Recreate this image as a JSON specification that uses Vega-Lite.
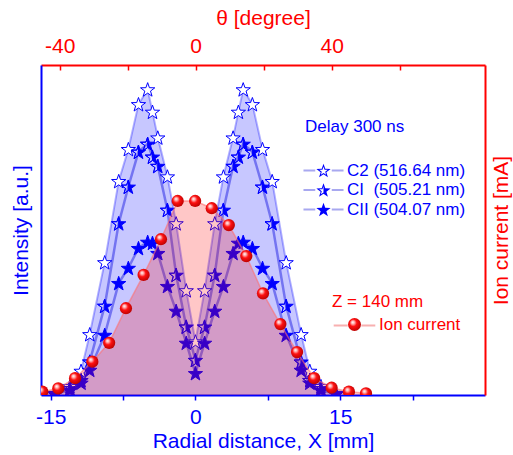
{
  "$schema": "https://vega.github.io/schema/vega-lite/v6.json",
  "width": 444,
  "height": 330,
  "autosize": {"type": "none"},
  "padding": {"left": 41, "top": 65, "right": 28, "bottom": 60},
  "background": "white",
  "config": {"font": "Liberation Sans", "view": {"stroke": null}, "axis": {"grid": false, "zindex": 1}},
  "datasets": {
    "stars": [
      {"series":"C2","x":-14.55,"y":0.6},{"series":"C2","x":-13,"y":2.7},{"series":"C2","x":-11.85,"y":7.3},{"series":"C2","x":-10.95,"y":18.4},{"series":"C2","x":-9.4,"y":40.2},{"series":"C2","x":-7.95,"y":64.8},{"series":"C2","x":-6.95,"y":74.5},{"series":"C2","x":-5.9,"y":88.1},{"series":"C2","x":-4.95,"y":92.6},{"series":"C2","x":-4.45,"y":85.8},{"series":"C2","x":-3.9,"y":78.0},{"series":"C2","x":-2.9,"y":66.2},{"series":"C2","x":-2,"y":52.0},{"series":"C2","x":-0.95,"y":31.7},{"series":"C2","x":0,"y":16.2},{"series":"C2","x":0.95,"y":31.7},{"series":"C2","x":2,"y":52.0},{"series":"C2","x":2.9,"y":66.2},{"series":"C2","x":3.9,"y":78.0},{"series":"C2","x":4.45,"y":85.8},{"series":"C2","x":4.95,"y":92.6},{"series":"C2","x":5.9,"y":88.1},{"series":"C2","x":6.95,"y":74.5},{"series":"C2","x":7.95,"y":64.8},{"series":"C2","x":9.4,"y":40.2},{"series":"C2","x":10.95,"y":18.4},{"series":"C2","x":11.85,"y":7.3},{"series":"C2","x":13,"y":2.7},{"series":"C2","x":14.55,"y":0.6},
      {"series":"CI","x":-14.55,"y":0.45},{"series":"CI","x":-13,"y":2.0},{"series":"CI","x":-11.85,"y":4.5},{"series":"CI","x":-10.95,"y":10.1},{"series":"CI","x":-9.4,"y":27.0},{"series":"CI","x":-7.95,"y":52.0},{"series":"CI","x":-6.95,"y":63.1},{"series":"CI","x":-5.9,"y":73.7},{"series":"CI","x":-4.95,"y":76.1},{"series":"CI","x":-4.45,"y":72.2},{"series":"CI","x":-3.9,"y":69.4},{"series":"CI","x":-2.9,"y":56.1},{"series":"CI","x":-2,"y":36.4},{"series":"CI","x":-0.95,"y":20.7},{"series":"CI","x":0,"y":10.6},{"series":"CI","x":0.95,"y":20.7},{"series":"CI","x":2,"y":36.4},{"series":"CI","x":2.9,"y":56.1},{"series":"CI","x":3.9,"y":69.4},{"series":"CI","x":4.45,"y":72.2},{"series":"CI","x":4.95,"y":76.1},{"series":"CI","x":5.9,"y":73.7},{"series":"CI","x":6.95,"y":63.1},{"series":"CI","x":7.95,"y":52.0},{"series":"CI","x":9.4,"y":27.0},{"series":"CI","x":10.95,"y":10.1},{"series":"CI","x":11.85,"y":4.5},{"series":"CI","x":13,"y":2.0},{"series":"CI","x":14.55,"y":0.45},
      {"series":"CII","x":-14.55,"y":0.3},{"series":"CII","x":-13,"y":1.5},{"series":"CII","x":-11.85,"y":3.7},{"series":"CII","x":-10.95,"y":7.6},{"series":"CII","x":-9.4,"y":18.2},{"series":"CII","x":-7.95,"y":33.9},{"series":"CII","x":-6.95,"y":38.5},{"series":"CII","x":-5.9,"y":44.5},{"series":"CII","x":-4.95,"y":46.4},{"series":"CII","x":-4.45,"y":46.1},{"series":"CII","x":-3.9,"y":43.0},{"series":"CII","x":-2.9,"y":33.0},{"series":"CII","x":-2,"y":25.5},{"series":"CII","x":-0.95,"y":15.8},{"series":"CII","x":0,"y":6.6},{"series":"CII","x":0.95,"y":15.8},{"series":"CII","x":2,"y":25.5},{"series":"CII","x":2.9,"y":33.0},{"series":"CII","x":3.9,"y":43.0},{"series":"CII","x":4.45,"y":46.1},{"series":"CII","x":4.95,"y":46.4},{"series":"CII","x":5.9,"y":44.5},{"series":"CII","x":6.95,"y":38.5},{"series":"CII","x":7.95,"y":33.9},{"series":"CII","x":9.4,"y":18.2},{"series":"CII","x":10.95,"y":7.6},{"series":"CII","x":11.85,"y":3.7},{"series":"CII","x":13,"y":1.5},{"series":"CII","x":14.55,"y":0.3}
    ],
    "ion": [
      {"series":"Ion current","x":-15.87,"y":1.0},{"series":"Ion current","x":-14.21,"y":2.0},{"series":"Ion current","x":-12.47,"y":5.1},{"series":"Ion current","x":-10.68,"y":10.1},{"series":"Ion current","x":-8.94,"y":15.8},{"series":"Ion current","x":-7.2,"y":26.3},{"series":"Ion current","x":-5.37,"y":36.4},{"series":"Ion current","x":-3.57,"y":47.2},{"series":"Ion current","x":-1.84,"y":58.8},{"series":"Ion current","x":-0.03,"y":58.8},{"series":"Ion current","x":1.69,"y":56.6},{"series":"Ion current","x":3.46,"y":51.5},{"series":"Ion current","x":5.27,"y":42.1},{"series":"Ion current","x":7.0,"y":30.8},{"series":"Ion current","x":8.8,"y":21.5},{"series":"Ion current","x":10.53,"y":13.0},{"series":"Ion current","x":12.3,"y":5.1},{"series":"Ion current","x":14.11,"y":2.2},{"series":"Ion current","x":15.9,"y":1.0},{"series":"Ion current","x":17.67,"y":0.5}
    ],
    "starkeys": [{"series": "C2"}, {"series": "CI"}, {"series": "CII"}],
    "ionkeys": [{"series": "Ion current"}]
  },
  "layer": [
    {
      "layer": [
        {
          "data": {"name": "stars"},
          "transform": [{"filter": "datum.series === 'C2'"}],
          "mark": {"type": "area", "color": "#0000ff", "opacity": 0.22, "clip": true},
          "encoding": {
            "x": {"field": "x", "type": "quantitative", "scale": {"domain": [-16, 30], "nice": false, "zero": false},
              "axis": {"orient": "bottom", "title": "Radial distance, X [mm]", "titleColor": "#0000ff", "titleFontSize": 21, "titleFontWeight": "normal", "titlePadding": 3, "labelColor": "#0000ff", "labelFontSize": 21, "labelPadding": 6, "values": [-15, -7.5, 0, 7.5, 15, 22.5], "labelExpr": "datum.value % 15 === 0 ? '' + datum.value : ''", "labelFlush": false, "labelOverlap": false, "domainColor": "#0000ff", "domainWidth": 2, "tickColor": "#0000ff", "tickWidth": 1.5, "tickSize": 5}},
            "y": {"field": "y", "type": "quantitative", "scale": {"domain": [0, 100], "nice": false, "zero": false},
              "axis": {"orient": "left", "title": "Intensity [a.u.]", "titleColor": "#0000ff", "titleFontSize": 21, "titleFontWeight": "normal", "titlePadding": 10, "ticks": false, "labels": false, "domainColor": "#0000ff", "domainWidth": 2}}
          }
        },
        {
          "data": {"name": "stars"},
          "transform": [{"filter": "datum.series === 'C2'"}],
          "mark": {"type": "line", "color": "#0000ff", "opacity": 0.3, "strokeWidth": 2, "clip": true},
          "encoding": {"x": {"field": "x", "type": "quantitative"}, "y": {"field": "y", "type": "quantitative"}}
        },
        {
          "data": {"name": "stars"},
          "transform": [{"filter": "datum.series !== 'C2'"}],
          "mark": {"type": "line", "color": "#1010e0", "opacity": 0.45, "strokeWidth": 2.5, "clip": true},
          "encoding": {"x": {"field": "x", "type": "quantitative"}, "y": {"field": "y", "type": "quantitative"}, "detail": {"field": "series", "type": "nominal"}}
        },
        {
          "data": {"name": "stars"},
          "mark": {"type": "point", "stroke": "#0000ff", "strokeWidth": 1, "size": 225, "opacity": 1, "clip": true},
          "encoding": {
            "x": {"field": "x", "type": "quantitative"},
            "y": {"field": "y", "type": "quantitative"},
            "fill": {"field": "series", "type": "nominal", "scale": {"domain": ["C2", "CI", "CII"], "range": ["#ffffff", "#0000ff", "#0000ff"]}, "legend": null},
            "shape": {"field": "series", "type": "nominal",
              "scale": {"domain": ["C2", "CI", "CII"], "range": [
                "M0,-0.905L0.235,-0.229L0.951,-0.214L0.38,0.219L0.588,0.904L0,0.495L-0.588,0.904L-0.38,0.219L-0.951,-0.214L-0.235,-0.229Z",
                "M0,-0.905L0.235,-0.229L0.951,-0.214L0.38,0.219L0.588,0.904L0,0.495L-0.588,0.904L-0.38,0.219L-0.951,-0.214L-0.235,-0.229ZM0,-0.905L-0.235,-0.229L-0.951,-0.214L-0.38,0.219L-0.588,0.904L0,0.495Z",
                "M0,-0.905L0.235,-0.229L0.951,-0.214L0.38,0.219L0.588,0.904L0,0.495L-0.588,0.904L-0.38,0.219L-0.951,-0.214L-0.235,-0.229Z"]},
              "legend": null}
          }
        }
      ]
    },
    {
      "layer": [
        {
          "data": {"name": "ion"},
          "mark": {"type": "area", "color": "#ff0000", "opacity": 0.22, "clip": true},
          "encoding": {
            "x": {"field": "x", "type": "quantitative", "scale": {"domain": [-16, 30], "nice": false, "zero": false}, "axis": null},
            "y": {"field": "y", "type": "quantitative", "scale": {"domain": [0, 100], "nice": false, "zero": false},
              "axis": {"orient": "right", "title": "Ion current [mA]", "titleColor": "#ff0000", "titleFontSize": 21, "titleFontWeight": "normal", "titlePadding": 5, "titleAngle": -90, "titleBaseline": "top", "ticks": false, "labels": false, "domainColor": "#ff0000", "domainWidth": 2}}
          }
        },
        {
          "data": {"name": "ion"},
          "mark": {"type": "line", "color": "#ff7070", "opacity": 0.6, "strokeWidth": 1.5, "clip": true},
          "encoding": {"x": {"field": "x", "type": "quantitative"}, "y": {"field": "y", "type": "quantitative"}}
        },
        {
          "data": {"name": "ion"},
          "mark": {"type": "point", "shape": "circle", "filled": true, "size": 150, "opacity": 1, "strokeWidth": 0, "clip": true,
            "fill": {"gradient": "radial", "x1": 0.36, "y1": 0.32, "r1": 0, "x2": 0.45, "y2": 0.45, "r2": 0.62,
              "stops": [{"offset": 0, "color": "#ffffff"}, {"offset": 0.2, "color": "#ffb0b0"}, {"offset": 0.45, "color": "#ff1010"}, {"offset": 1, "color": "#b00000"}]}},
          "encoding": {
            "x": {"field": "x", "type": "quantitative"},
            "y": {"field": "y", "type": "quantitative"}
          }
        }
      ]
    },
    {
      "data": {"values": [{"theta": -45.5}, {"theta": 85.1}]},
      "mark": {"type": "point", "opacity": 0},
      "encoding": {
        "x": {"field": "theta", "type": "quantitative", "scale": {"domain": [-45.5, 85.1], "nice": false, "zero": false},
          "axis": {"orient": "top", "title": "θ [degree]", "titleColor": "#ff0000", "titleFontSize": 21, "titleFontWeight": "normal", "titlePadding": 7, "labelColor": "#ff0000", "labelFontSize": 21, "labelPadding": 14, "values": [-40, -20, 0, 20, 40, 60], "labelExpr": "datum.value % 40 === 0 ? '' + datum.value : ''", "labelFlush": false, "labelOverlap": false, "domainColor": "#ff0000", "domainWidth": 2, "tickColor": "#ff0000", "tickWidth": 1.5, "tickSize": -5}}
      }
    },
    {
      "data": {"name": "starkeys"},
      "mark": {"type": "point", "filled": true, "fill": "#a8a8f0", "strokeWidth": 0, "opacity": 0},
      "encoding": {
        "shape": {"field": "series", "type": "nominal",
          "scale": {"domain": ["C2", "CI", "CII"], "range": [
            "M-2.67,-0.13L-1.1,-0.13L-1.1,0.13L-2.67,0.13ZM1.1,-0.13L2.67,-0.13L2.67,0.13L1.1,0.13Z",
            "M-2.67,-0.131L-1.1,-0.131L-1.1,0.131L-2.67,0.131ZM1.1,-0.131L2.67,-0.131L2.67,0.131L1.1,0.131Z",
            "M-2.67,-0.132L-1.1,-0.132L-1.1,0.132L-2.67,0.132ZM1.1,-0.132L2.67,-0.132L2.67,0.132L1.1,0.132Z"]},
          "legend": {"orient": "none", "legendX": 264, "legendY": 97, "padding": 0, "title": null, "labelExpr": "''", "labelFontSize": 17, "symbolSize": 225, "symbolOffset": 10, "rowPadding": 1.5, "symbolStrokeWidth": 0, "symbolOpacity": 1}}
      }
    },
    {
      "data": {"name": "starkeys"},
      "mark": {"type": "point", "filled": true, "fill": "#0000ff", "strokeWidth": 0, "opacity": 0},
      "encoding": {
        "shape": {"field": "series", "type": "nominal",
          "scale": {"domain": ["C2", "CI", "CII"], "range": [
            "M0,-0.905L0.235,-0.229L0.951,-0.214L0.38,0.219L0.588,0.904L0,0.495L-0.588,0.904L-0.38,0.219L-0.951,-0.214L-0.235,-0.229ZM0,-0.505L-0.141,-0.099L-0.571,-0.09L-0.228,0.169L-0.353,0.58L0,0.335L0.353,0.58L0.228,0.169L0.571,-0.09L0.141,-0.099Z",
            "M0,-0.905L0.235,-0.229L0.951,-0.214L0.38,0.219L0.588,0.904L0,0.495L-0.588,0.904L-0.38,0.219L-0.951,-0.214L-0.235,-0.229ZM0,-0.505L-0.141,-0.099L-0.571,-0.09L-0.228,0.169L-0.353,0.58L0,0.335Z",
            "M0,-0.905L0.235,-0.229L0.951,-0.214L0.38,0.219L0.588,0.904L0,0.495L-0.588,0.904L-0.38,0.219L-0.951,-0.214L-0.235,-0.229Z"]},
          "legend": {
            "orient": "none", "legendX": 264, "legendY": 54, "padding": 0,
            "title": "Delay 300 ns", "titleColor": "#0000ff", "titleFontSize": 17, "titleFontWeight": "normal", "titlePadding": 26, "titleAnchor": "start",
            "labelColor": "#0000ff", "labelFontSize": 17, "labelOffset": 15, "labelLimit": 300,
            "labelExpr": "datum.value === 'C2' ? 'C2 (516.64 nm)' : datum.value === 'CI' ? 'CI\u00a0\u00a0(505.21 nm)' : 'CII (504.07 nm)'",
            "symbolSize": 225, "symbolOffset": 10, "rowPadding": 1.5, "symbolStrokeWidth": 0, "symbolOpacity": 1}}
      }
    },
    {
      "data": {"name": "ionkeys"},
      "mark": {"type": "point", "filled": true, "fill": "#f8b0b0", "strokeWidth": 0, "opacity": 0},
      "encoding": {
        "shape": {"field": "series", "type": "nominal",
          "scale": {"domain": ["Ion current"], "range": ["M-3.2,-0.15L-1.05,-0.15L-1.05,0.15L-3.2,0.15ZM1.05,-0.15L3.2,-0.15L3.2,0.15L1.05,0.15Z"]},
          "legend": {"orient": "none", "legendX": 291, "legendY": 252, "padding": 0, "title": null, "labelExpr": "''", "labelFontSize": 17, "symbolSize": 169, "symbolOffset": 14, "symbolStrokeWidth": 0, "symbolOpacity": 1}}
      }
    },
    {
      "data": {"name": "ionkeys"},
      "mark": {"type": "point", "filled": true, "strokeWidth": 0, "opacity": 0,
        "fill": {"gradient": "radial", "x1": 0.36, "y1": 0.32, "r1": 0, "x2": 0.45, "y2": 0.45, "r2": 0.62,
          "stops": [{"offset": 0, "color": "#ffffff"}, {"offset": 0.2, "color": "#ffb0b0"}, {"offset": 0.45, "color": "#ff1010"}, {"offset": 1, "color": "#b00000"}]}},
      "encoding": {
        "shape": {"field": "series", "type": "nominal",
          "scale": {"domain": ["Ion current"], "range": ["circle"]},
          "legend": {
            "orient": "none", "legendX": 291, "legendY": 229, "padding": 0,
            "title": "Z = 140 mm", "titleColor": "#ff0000", "titleFontSize": 17, "titleFontWeight": "normal", "titlePadding": 5, "titleAnchor": "start",
            "labelColor": "#ff0000", "labelFontSize": 17, "labelOffset": 16, "labelLimit": 300,
            "symbolSize": 169, "symbolOffset": 14, "symbolStrokeWidth": 0, "symbolOpacity": 1}}
      }
    }
  ],
  "resolve": {"scale": {"x": "independent", "y": "independent", "shape": "independent", "fill": "independent"}}
}
